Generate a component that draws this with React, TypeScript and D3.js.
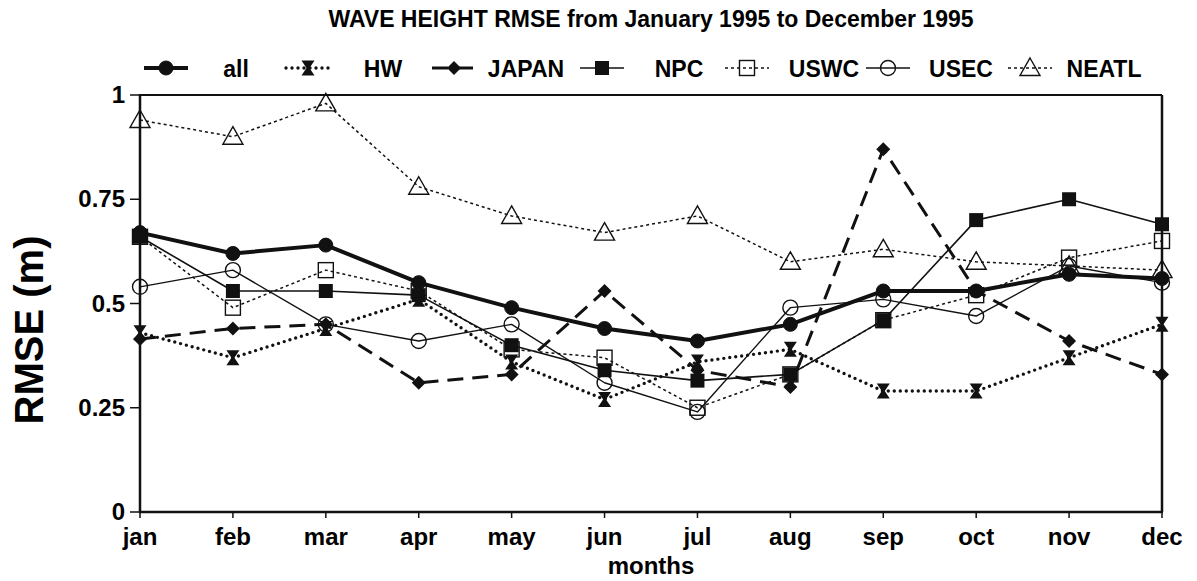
import React from "react";
import * as d3 from "d3";

const months = ["jan","feb","mar","apr","may","jun","jul","aug","sep","oct","nov","dec"];
const yTicks = [0, 0.25, 0.5, 0.75, 1];
const yTickLabels = ["0", "0.25", "0.5", "0.75", "1"];

const allVals = [0.67, 0.62, 0.64, 0.55, 0.49, 0.44, 0.41, 0.45, 0.53, 0.53, 0.57, 0.56];
const hwVals = [0.43, 0.37, 0.44, 0.51, 0.36, 0.27, 0.36, 0.39, 0.29, 0.29, 0.37, 0.45];
const japanVals = [0.415, 0.44, 0.45, 0.31, 0.33, 0.53, 0.34, 0.30, 0.87, 0.53, 0.41, 0.33];
const npcVals = [0.66, 0.53, 0.53, 0.52, 0.40, 0.34, 0.315, 0.33, 0.46, 0.70, 0.75, 0.69];
const uswcVals = [0.66, 0.49, 0.58, 0.53, 0.39, 0.37, 0.25, 0.33, 0.46, 0.52, 0.61, 0.65];
const usecVals = [0.54, 0.58, 0.45, 0.41, 0.45, 0.31, 0.24, 0.49, 0.51, 0.47, 0.59, 0.55];
const neatlVals = [0.94, 0.90, 0.98, 0.78, 0.71, 0.67, 0.71, 0.60, 0.63, 0.60, 0.59, 0.58];

type Marker = "fcircle" | "hourglass" | "diamond" | "fsquare" | "osquare" | "ocircle" | "otriangle";
interface Series { name: string; values: number[]; width: number; dash: string | null; cap: string; marker: Marker; legendX: number; labelX: number; }

const series: Series[] = [
  { name: "all", values: allVals, width: 4, dash: null, cap: "butt", marker: "fcircle", legendX: 166, labelX: 236 },
  { name: "HW", values: hwVals, width: 3.4, dash: "0 6", cap: "round", marker: "hourglass", legendX: 308, labelX: 383 },
  { name: "JAPAN", values: japanVals, width: 3, dash: "16 9", cap: "butt", marker: "diamond", legendX: 454, labelX: 526 },
  { name: "NPC", values: npcVals, width: 1.6, dash: null, cap: "butt", marker: "fsquare", legendX: 602, labelX: 679 },
  { name: "USWC", values: uswcVals, width: 1.5, dash: "3 3", cap: "butt", marker: "osquare", legendX: 747, labelX: 824 },
  { name: "USEC", values: usecVals, width: 1.4, dash: null, cap: "butt", marker: "ocircle", legendX: 888, labelX: 961 },
  { name: "NEATL", values: neatlVals, width: 1.5, dash: "3 3", cap: "butt", marker: "otriangle", legendX: 1030, labelX: 1104 },
];

const W = 1197, H = 581;
const margin = { left: 140, right: 35, top: 95, bottom: 69 };
const FONT = "'Liberation Sans', Arial, Helvetica, sans-serif";

function MarkerShape({ kind, x, y }: { kind: Marker; x: number; y: number }) {
  switch (kind) {
    case "fcircle":
      return <circle cx={x} cy={y} r={7} fill="#111" stroke="#111" strokeWidth={1} />;
    case "hourglass":
      return <path d={`M${x - 6.5},${y - 7.5} L${x + 6.5},${y - 7.5} L${x + 1.5},${y} L${x + 6.5},${y + 7.5} L${x - 6.5},${y + 7.5} L${x - 1.5},${y} Z`} fill="#111" />;
    case "diamond":
      return <path d={`M${x},${y - 7} L${x + 7},${y} L${x},${y + 7} L${x - 7},${y} Z`} fill="#111" />;
    case "fsquare":
      return <rect x={x - 7} y={y - 7} width={14} height={14} fill="#111" />;
    case "osquare":
      return <rect x={x - 7.5} y={y - 7.5} width={15} height={15} fill="none" stroke="#111" strokeWidth={1.4} />;
    case "ocircle":
      return <circle cx={x} cy={y} r={7.5} fill="none" stroke="#111" strokeWidth={1.4} />;
    case "otriangle":
      return <path d={`M${x},${y - 10} L${x + 10},${y + 7.5} L${x - 10},${y + 7.5} Z`} fill="none" stroke="#111" strokeWidth={1.4} />;
  }
}

export default function App() {
  const x = d3.scaleLinear().domain([0, months.length - 1]).range([margin.left, W - margin.right]);
  const y = d3.scaleLinear().domain([0, 1]).range([H - margin.bottom, margin.top]);
  const line = d3.line<number>().x((_, i) => x(i)).y((d) => y(d));
  const x0 = x(0), x1 = x(months.length - 1), y0 = y(0), y1 = y(1);
  const legY = 68;
  const cx = (x0 + x1) / 2;

  return (
    <svg width={W} height={H} style={{ position: "absolute", left: 0, top: 0, background: "#fff" }} fontFamily={FONT}>
      <rect x={0} y={0} width={W} height={H} fill="#fff" />
      <text x={cx} y={27} textAnchor="middle" fontSize={23} fontWeight="bold">WAVE HEIGHT RMSE from January 1995 to December 1995</text>

      {/* frame */}
      <line x1={x0} x2={x1} y1={y1} y2={y1} stroke="#111" strokeWidth={2} />
      <line x1={x1} x2={x1} y1={y1} y2={y0} stroke="#111" strokeWidth={2.5} />
      <line x1={x0} x2={x0} y1={y1 - 1} y2={y0 + 1} stroke="#111" strokeWidth={2.5} />
      <line x1={x0 - 1} x2={x1 + 1} y1={y0} y2={y0} stroke="#111" strokeWidth={2.5} />

      {/* y ticks */}
      {yTicks.map((t, i) => (
        <g key={t}>
          <line x1={x0 - 10} x2={x0} y1={y(t)} y2={y(t)} stroke="#111" strokeWidth={1.5} />
          <text x={x0 - 15} y={y(t) + 8} textAnchor="end" fontSize={24} fontWeight="bold">{yTickLabels[i]}</text>
        </g>
      ))}
      {/* x ticks */}
      {months.map((m, i) => (
        <g key={m}>
          <line x1={x(i)} x2={x(i)} y1={y0} y2={y0 + 6} stroke="#111" strokeWidth={1.5} />
          <text x={x(i)} y={y0 + 33} textAnchor="middle" fontSize={24} fontWeight="bold">{m}</text>
        </g>
      ))}
      <text x={cx} y={574} textAnchor="middle" fontSize={24} fontWeight="bold">months</text>
      <text transform={`translate(43,330) rotate(-90)`} textAnchor="middle" fontSize={40} fontWeight="bold">RMSE (m)</text>

      {/* series lines */}
      {series.map((s) => (
        <path key={s.name} d={line(s.values) || ""} fill="none" stroke="#111" strokeWidth={s.width}
          strokeDasharray={s.dash || undefined} strokeLinecap={s.cap as any} strokeLinejoin="round" />
      ))}
      {/* markers */}
      {series.map((s) => (
        <g key={s.name + "m"}>
          {s.values.map((v, i) => <MarkerShape key={i} kind={s.marker} x={x(i)} y={y(v)} />)}
        </g>
      ))}

      {/* legend */}
      {series.map((s) => (
        <g key={s.name + "l"}>
          <line x1={s.legendX - 22} x2={s.legendX + 22} y1={legY} y2={legY} stroke="#111" strokeWidth={s.width}
            strokeDasharray={s.dash || undefined} strokeLinecap={s.cap as any} />
          <MarkerShape kind={s.marker} x={s.legendX} y={legY} />
          <text x={s.labelX} y={legY + 9} textAnchor="middle" fontSize={23} fontWeight="bold">{s.name}</text>
        </g>
      ))}
    </svg>
  );
}
